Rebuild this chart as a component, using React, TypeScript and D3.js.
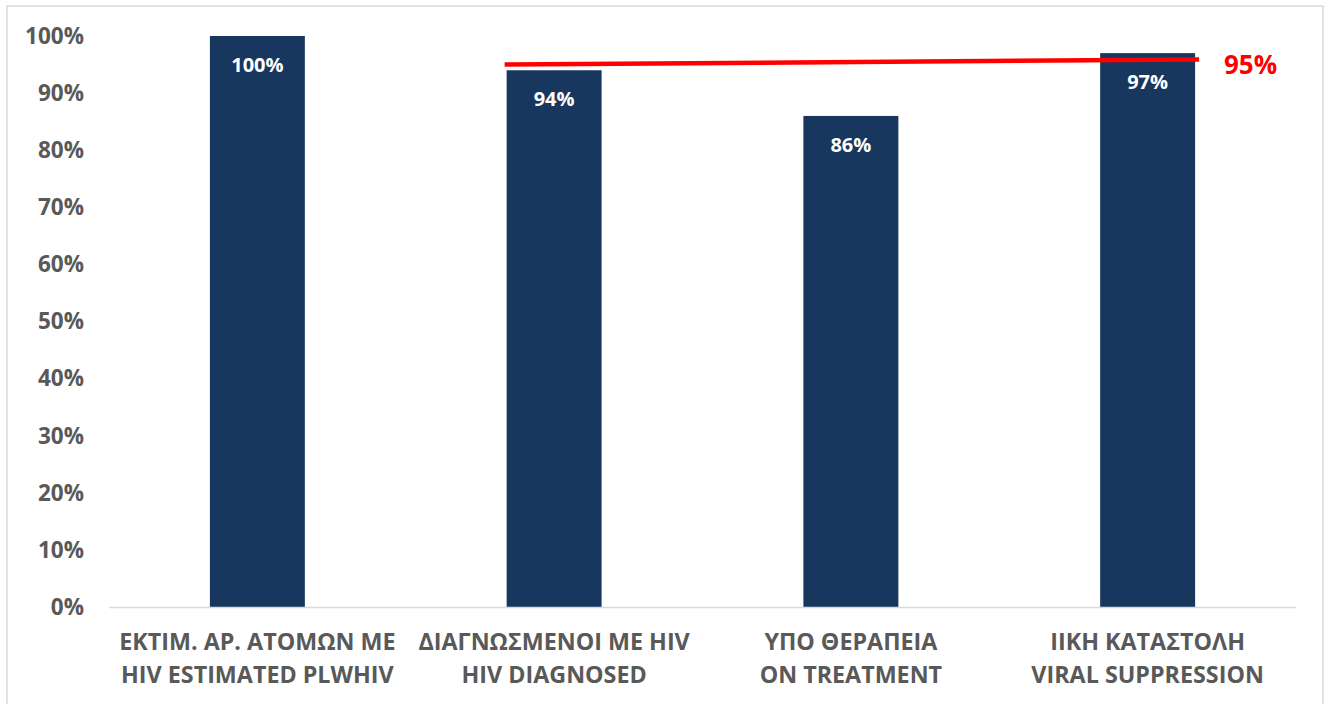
import React from "react";
import * as d3 from "d3";

const categories: string[][] = [
  ["ΕΚΤΙΜ. ΑΡ. ΑΤΟΜΩΝ ΜΕ", "HIV ESTIMATED PLWHIV"],
  ["ΔΙΑΓΝΩΣΜΕΝΟΙ ΜΕ HIV", "HIV DIAGNOSED"],
  ["ΥΠΟ ΘΕΡΑΠΕΙΑ", "ON TREATMENT"],
  ["ΙΙΚΗ ΚΑΤΑΣΤΟΛΗ", "VIRAL SUPPRESSION"],
];
const values: number[] = [100, 94, 86, 97];
const yTicks: number[] = [0, 10, 20, 30, 40, 50, 60, 70, 80, 90, 100];
const targetLabel = "95%";
const targetStart = 95;
const targetEnd = 95.9;

const W = 1331;
const H = 704;
const FONT = "'Open Sans', 'Liberation Sans', sans-serif";

export default function App() {
  const x = d3
    .scaleBand<number>()
    .domain(d3.range(categories.length))
    .range([109, 1296])
    .paddingInner(0.68)
    .paddingOuter(0.34);
  const y = d3.scaleLinear().domain([0, 100]).range([607, 36]);

  const x1 = x(1)! - 2;
  const x2 = x(3)! + x.bandwidth() + 4;

  return (
    <svg
      width={W}
      height={H}
      style={{ position: "absolute", left: 0, top: 0, background: "#fff" }}
      fontFamily={FONT}
    >
      <rect x={7} y={6} width={1316} height={700} fill="#fff" stroke="#d9d9d9" strokeWidth={1.5} />
      {yTicks.map((t) => (
        <text
          key={t}
          x={84}
          y={y(t)}
          dy="0.35em"
          textAnchor="end"
          fontSize={22.5}
          fontWeight={700}
          fill="#595959"
        >
          {t}%
        </text>
      ))}
      {values.map((v, i) => (
        <g key={i}>
          <rect x={x(i)} y={y(v)} width={x.bandwidth()} height={y(0) - y(v)} fill="#17375E" />
          <text
            x={x(i)! + x.bandwidth() / 2}
            y={y(v) + 29}
            dy="0.35em"
            textAnchor="middle"
            fontSize={20}
            fontWeight={700}
            fill="#fff"
          >
            {v}%
          </text>
        </g>
      ))}
      <line x1={109} x2={1296} y1={607.5} y2={607.5} stroke="#d9d9d9" strokeWidth={1.5} />
      {categories.map((lines, i) => (
        <text
          key={i}
          x={x(i)! + x.bandwidth() / 2}
          textAnchor="middle"
          fontSize={23.3}
          fontWeight={700}
          fill="#595959"
        >
          {lines.map((l, j) => (
            <tspan key={j} x={x(i)! + x.bandwidth() / 2} y={642 + j * 33} dy="0.35em">
              {l}
            </tspan>
          ))}
        </text>
      ))}
      <line
        x1={x1}
        x2={x2}
        y1={y(targetStart)}
        y2={y(targetEnd)}
        stroke="#ff0000"
        strokeWidth={4.5}
      />
      <text x={1224} y={65} dy="0.35em" fontSize={26} fontWeight={700} fill="#ff0000">
        {targetLabel}
      </text>
    </svg>
  );
}
